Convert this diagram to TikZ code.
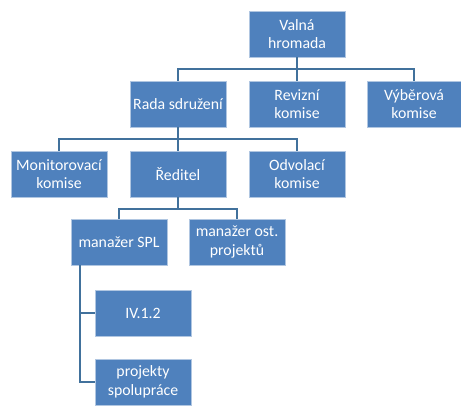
\documentclass[tikz,border=0pt]{standalone}
\usepackage{fontspec}
\setmainfont{Carlito}
\definecolor{boxblue}{HTML}{4F81BD}
\definecolor{lineblue}{HTML}{41719C}
\begin{document}
\begin{tikzpicture}[x=1pt,y=-1pt,
  orgbox/.style={rectangle, fill=boxblue, draw=white!55!boxblue, line width=0.6pt,
    minimum width=96pt, minimum height=46pt, inner sep=1pt, align=center,
    text=white, font=\fontsize{15.8}{18.5}\selectfont},
  conn/.style={draw=lineblue, line width=1.8pt}]
\useasboundingbox (0,0) rectangle (461,405);
\node[orgbox] (vh) at (297,34) {Valná\\hromada};
\node[orgbox] (rev) at (297,104) {Revizní\\komise};
\node[orgbox, minimum width=94pt] (vyb) at (414,104) {Výběrová\\komise};
\node[orgbox] (rada) at (178,104) {Rada sdružení};
\node[orgbox] (mon) at (59,174) {Monitorovací\\komise};
\node[orgbox] (red) at (178,174) {Ředitel};
\node[orgbox] (odv) at (297,174) {Odvolací\\komise};
\node[orgbox] (spl) at (119,242) {manažer SPL};
\node[orgbox] (ost) at (237,242) {manažer ost.\\projektů};
\node[orgbox] (iv) at (143,313) {IV.1.2};
\node[orgbox] (proj) at (143,382) {projekty\\spolupráce};
% connectors
\draw[conn] (vh.south) -- (rev.north);
\draw[conn] (rada.north) -- ++(0,-12) -| (vyb.north);
\draw[conn] (rada.south) -- (red.north);
\draw[conn] (mon.north) -- ++(0,-12) -| (odv.north);
\draw[conn] (red.south) -- ++(0,12) coordinate (rb);
\draw[conn] (spl.north) |- (rb) -| (ost.north);
\coordinate (sv) at ([xshift=9pt]spl.south west);
\draw[conn] (sv) |- (iv.west);
\draw[conn] (sv) |- (proj.west);
\end{tikzpicture}
\end{document}
